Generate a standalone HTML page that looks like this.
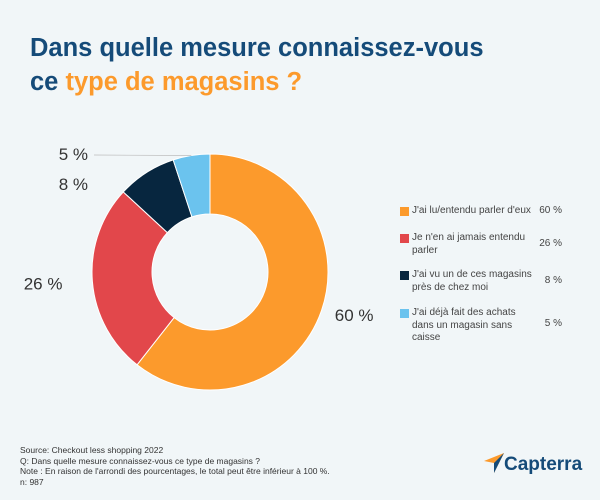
<!DOCTYPE html>
<html><head><meta charset="utf-8"><style>
body{margin:0;width:600px;height:500px;background:#f1f6f8;font-family:"Liberation Sans",sans-serif;overflow:hidden;position:relative}
.t{position:absolute;left:30px;top:31px;font-size:25.5px;font-weight:bold;color:#154b79;line-height:34px}
.t span{color:#fc9a2c}
.foot{position:absolute;left:20px;top:445px;font-size:8.5px;color:#333;line-height:10.5px}
.leg{position:absolute;left:400px;font-size:10px;color:#444;line-height:12.5px;width:190px}
.leg i{position:absolute;left:0;top:2px;width:9px;height:9px}
.leg .l{position:absolute;left:12px;width:150px;white-space:nowrap}
.leg .v{position:absolute;right:28px}
.logo{position:absolute;left:484px;top:453px;font-size:19px;font-weight:bold;color:#154b79}
</style></head><body>
<div class="t">Dans quelle mesure connaissez-vous<br>ce <span>type de magasins ?</span></div>
<svg id="c" width="600" height="500" style="position:absolute;left:0;top:0"></svg>
<div class="leg" style="top:205px"><i style="background:#fc9a2c"></i><div class="l">J'ai lu/entendu parler d'eux</div><div class="v">60 %</div></div>
<div class="leg" style="top:232px"><i style="background:#e2474b"></i><div class="l">Je n'en ai jamais entendu<br>parler</div><div class="v" style="top:6px">26 %</div></div>
<div class="leg" style="top:269px"><i style="background:#07263f"></i><div class="l">J'ai vu un de ces magasins<br>près de chez moi</div><div class="v" style="top:6px">8 %</div></div>
<div class="leg" style="top:307px"><i style="background:#6bc3ee"></i><div class="l">J'ai déjà fait des achats<br>dans un magasin sans<br>caisse</div><div class="v" style="top:11px">5 %</div></div>
<div class="foot">Source: Checkout less shopping 2022<br>Q: Dans quelle mesure connaissez-vous ce type de magasins ?<br>Note : En raison de l'arrondi des pourcentages, le total peut être inférieur à 100 %.<br>n: 987</div>
<div class="logo"><svg width="20" height="20" style="vertical-align:-3px"><polygon points="0,8 20,0 10,20 10,10" fill="#fc9a2c"/><polygon points="10,10 20,0 10,20" fill="#154b79"/></svg>Capterra</div>
<script>
const categories=["J'ai lu/entendu parler d'eux","Je n'en ai jamais entendu parler","J'ai vu un de ces magasins","J'ai déjà fait des achats"];
const values=[60,26,8,5];
const labels=["60 %","26 %","8 %","5 %"];
const colors=["#fc9a2c","#e2474b","#07263f","#6bc3ee"];
const svg=document.getElementById('c');const NS="http://www.w3.org/2000/svg";
const cx=210,cy=272,R=118,r=58;
const total=values.reduce((a,b)=>a+b,0);
let a0=0;
function pt(a,rad){return [cx+rad*Math.sin(a),cy-rad*Math.cos(a)];}
values.forEach((v,i)=>{
 const a1=a0+v/total*2*Math.PI;const big=(a1-a0)>Math.PI?1:0;
 const p1=pt(a0,R),p2=pt(a1,R),p3=pt(a1,r),p4=pt(a0,r);
 const p=document.createElementNS(NS,'path');
 p.setAttribute('d',`M${p1}A${R},${R} 0 ${big} 1 ${p2}L${p3}A${r},${r} 0 ${big} 0 ${p4}Z`);
 p.setAttribute('fill',colors[i]);p.setAttribute('stroke','#fff');p.setAttribute('stroke-width','1');
 
 
 svg.appendChild(p);
 const m=(a0+a1)/2;let lp=pt(m,R+14);let anchor=Math.sin(m)>0?'start':'end';
 if(i===1)lp=pt(m,R+30);
 if(i===3){const e=pt(m,R);const l=document.createElementNS(NS,'line');
  l.setAttribute('x1',e[0]);l.setAttribute('y1',e[1]);l.setAttribute('x2',94);l.setAttribute('y2',155);l.setAttribute('stroke','#bbb');l.setAttribute('stroke-width','0.7');
  
  
  svg.appendChild(l);lp=[88,154];}
 if(i===2){lp=[88,184];}
 const t=document.createElementNS(NS,'text');
 t.setAttribute('x',lp[0]);t.setAttribute('y',lp[1]+6);t.setAttribute('text-anchor',anchor);
 t.setAttribute('font-size','17');t.setAttribute('fill','#333');t.setAttribute('font-family','Liberation Sans, sans-serif');
 t.textContent=labels[i];
 
 
 svg.appendChild(t);
 a0=a1;
});
</script>
</body></html>
